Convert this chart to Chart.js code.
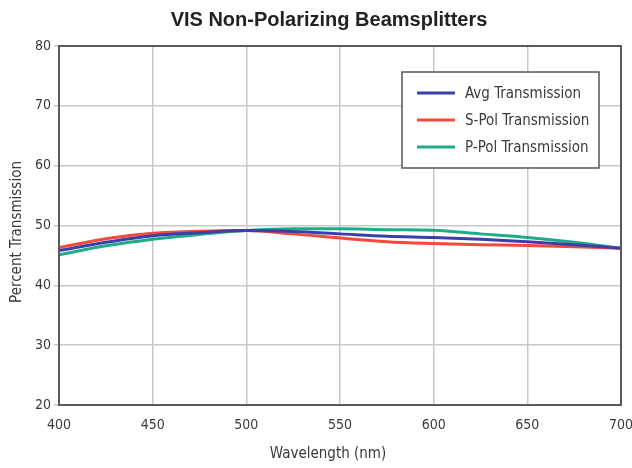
<!DOCTYPE html>
<html>
<head>
<meta charset="utf-8">
<script src="https://cdn.jsdelivr.net/npm/chart.js@4.4.1/dist/chart.umd.min.js"></script>
<style>
  html, body { margin: 0; padding: 0; background: #ffffff; }
  #wrap { width: 632px; height: 468px; }
</style>
</head>
<body>
<div id="wrap"><canvas id="c" width="632" height="468"></canvas></div>
<script>
const chartTitle = "VIS Non-Polarizing Beamsplitters";
const xAxisTitle = "Wavelength (nm)";
const yAxisTitle = "Percent Transmission";
const wavelengths = [400, 425, 450, 475, 500, 525, 550, 575, 600, 625, 650, 675, 700];
const avgTransmission = [45.8, 47.2, 48.3, 48.8, 49.15, 49.0, 48.6, 48.2, 48.0, 47.7, 47.3, 46.8, 46.2];
const sPolTransmission = [46.3, 47.8, 48.7, 49.05, 49.15, 48.6, 47.9, 47.3, 47.0, 46.8, 46.65, 46.45, 46.2];
const pPolTransmission = [45.1, 46.6, 47.7, 48.5, 49.15, 49.45, 49.45, 49.3, 49.2, 48.6, 48.0, 47.2, 46.2];
const seriesNames = ["Avg Transmission", "S-Pol Transmission", "P-Pol Transmission"];
const seriesColors = ["#3d3fa8", "#f24a3b", "#1faa88"];

const NARROW = "'Liberation Sans Narrow', 'Arial Narrow', 'DejaVu Sans Condensed', sans-serif";

function toPoints(ys) { return wavelengths.map((x, i) => ({ x: x, y: ys[i] })); }

const seriesValues = [avgTransmission, sPolTransmission, pPolTransmission];

const frameAndText = {
  id: 'frameAndText',
  beforeDraw(chart) {
    const ctx = chart.ctx;
    ctx.save();
    ctx.fillStyle = '#ffffff';
    ctx.fillRect(0, 0, chart.width, chart.height);
    ctx.restore();
  },
  afterDatasetsDraw(chart) {
    const ctx = chart.ctx;
    const a = chart.chartArea;
    ctx.save();
    // frame
    ctx.strokeStyle = '#5a5a5a';
    ctx.lineWidth = 2;
    ctx.strokeRect(a.left, a.top, a.right - a.left, a.bottom - a.top);
    // legend
    const lx = 402, ly = 72, lw = 197, lh = 96;
    ctx.fillStyle = '#ffffff';
    ctx.fillRect(lx, ly, lw, lh);
    ctx.lineWidth = 1.5;
    ctx.strokeStyle = '#555555';
    ctx.strokeRect(lx, ly, lw, lh);
    const rows = [93, 120, 147];
    chart.data.datasets.forEach((ds, i) => {
      ctx.strokeStyle = ds.borderColor;
      ctx.lineWidth = 3;
      ctx.beginPath();
      ctx.moveTo(417, rows[i]);
      ctx.lineTo(455, rows[i]);
      ctx.stroke();
      ctx.fillStyle = '#3a3a3a';
      ctx.font = "15px " + NARROW;
      ctx.textAlign = 'left';
      ctx.textBaseline = 'middle';
      ctx.fillText(ds.label, 465, rows[i] + 1);
    });
    // titles
    ctx.fillStyle = '#222222';
    ctx.font = "bold 20px 'Liberation Sans', Arial, sans-serif";
    ctx.textAlign = 'center';
    ctx.textBaseline = 'middle';
    ctx.fillText(chartTitle, 329, 20);
    ctx.fillStyle = '#3a3a3a';
    ctx.font = "15px " + NARROW;
    ctx.fillText(xAxisTitle, 328, 454);
    ctx.translate(17, 232);
    ctx.rotate(-Math.PI / 2);
    ctx.fillText(yAxisTitle, 0, 0);
    ctx.restore();
  }
};

new Chart(document.getElementById('c'), {
  type: 'line',
  data: {
    datasets: seriesValues.map((vals, i) => ({
      label: seriesNames[i],
      data: toPoints(vals),
      borderColor: seriesColors[i],
      backgroundColor: seriesColors[i],
      borderWidth: 3,
      pointRadius: 0,
      tension: 0.4,
      cubicInterpolationMode: 'monotone',
      fill: false
    }))
  },
  options: {
    responsive: false,
    animation: false,
    devicePixelRatio: 1,
    layout: { padding: { top: 46, right: 11, bottom: 0, left: 0 } },
    plugins: {
      legend: { display: false },
      title: { display: false },
      tooltip: { enabled: false }
    },
    scales: {
      x: {
        type: 'linear',
        min: 400, max: 700,
        ticks: {
          stepSize: 50,
          padding: 12,
          color: '#3a3a3a',
          font: { family: NARROW, size: 14 },
          maxRotation: 0
        },
        grid: { color: '#c8c8c8', lineWidth: 1.5, drawTicks: false },
        border: { display: false },
        afterFit(s) { s.height = 63; s.paddingLeft = 0; s.paddingRight = 0; }
      },
      y: {
        min: 20, max: 80,
        ticks: {
          stepSize: 10,
          padding: 3,
          color: '#3a3a3a',
          font: { family: NARROW, size: 14 }
        },
        grid: { color: '#c8c8c8', lineWidth: 1.5, drawTicks: true, tickLength: 5 },
        border: { display: false },
        afterFit(s) { s.width = 59; s.paddingTop = 0; s.paddingBottom = 0; }
      }
    }
  },
  plugins: [frameAndText]
});
</script>
</body>
</html>
